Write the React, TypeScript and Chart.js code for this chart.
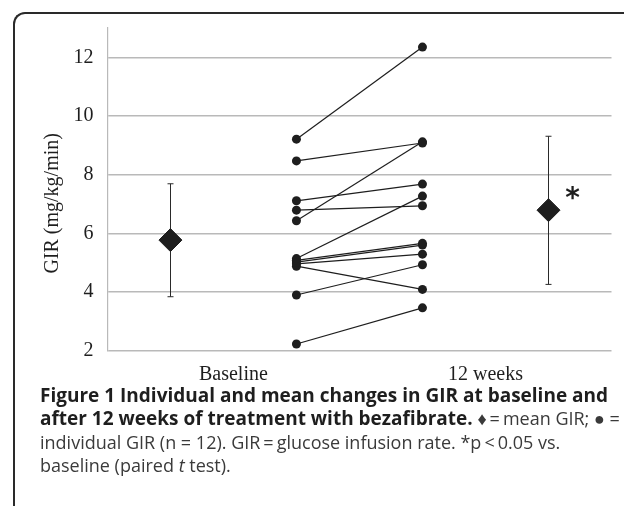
import React, { useEffect, useRef } from 'react';
import { Chart, registerables } from 'chart.js';

Chart.register(...registerables);

// ---- data ----
const groupLabels = ['Baseline', '12 weeks'];
const groupTickPositions = [1, 3];
const individualX = [1.5, 2.5];
const baselineValues = [9.21, 8.47, 7.11, 6.79, 6.43, 5.14, 5.08, 5.02, 4.96, 4.88, 3.9, 2.23];
const week12Values = [12.35, 9.08, 7.68, 6.94, 9.12, 7.27, 5.66, 5.6, 5.29, 4.09, 4.93, 3.46];
const meanX = [0.5, 3.5];
const meanValues = [5.77, 6.79];
const errorUpper = [7.69, 9.31];
const errorLower = [3.84, 4.26];
const yTicks = [2, 4, 6, 8, 10, 12];
const yRange = [2, 13];
const xRange = [0, 4];
const yTitle = 'GIR (mg/kg/min)';
const significanceMark = '*';

const CANVAS_W = 624;
const CANVAS_H = 390;

const overlayPlugin = {
  id: 'overlay',
  beforeDatasetsDraw(chart: any) {
    const { ctx, scales } = chart;
    const x = scales.x;
    const y = scales.y;
    ctx.save();
    ctx.strokeStyle = '#2a2a2a';
    ctx.lineWidth = 1;
    meanX.forEach((mx, i) => {
      const px = Math.round(x.getPixelForValue(mx)) + 0.5;
      const top = y.getPixelForValue(errorUpper[i]);
      const bot = y.getPixelForValue(errorLower[i]);
      ctx.beginPath();
      ctx.moveTo(px, top);
      ctx.lineTo(px, bot);
      ctx.moveTo(px - 3, top);
      ctx.lineTo(px + 3, top);
      ctx.moveTo(px - 3, bot);
      ctx.lineTo(px + 3, bot);
      ctx.stroke();
    });
    ctx.restore();
  },
  afterDraw(chart: any) {
    const { ctx, scales, chartArea } = chart;
    const x = scales.x;
    const y = scales.y;
    // y-axis title
    ctx.save();
    ctx.fillStyle = '#1e1e1e';
    ctx.font = '20px "Liberation Serif"';
    ctx.translate(chartArea.left - 55, (chartArea.top + chartArea.bottom) / 2 + 14);
    ctx.rotate(-Math.PI / 2);
    ctx.textAlign = 'center';
    ctx.textBaseline = 'middle';
    ctx.fillText(yTitle, 0, 0);
    ctx.restore();
    // significance asterisk
    ctx.save();
    ctx.fillStyle = '#1e1e1e';
    ctx.font = 'bold 28px "DejaVu Sans"';
    ctx.textAlign = 'center';
    ctx.textBaseline = 'middle';
    ctx.fillText(
      significanceMark,
      x.getPixelForValue(meanX[1]) + 24,
      y.getPixelForValue(meanValues[1]) - 10
    );
    ctx.restore();
  },
};

function GirChart() {
  const canvasRef = useRef<HTMLCanvasElement | null>(null);

  useEffect(() => {
    const canvas = canvasRef.current;
    if (!canvas) return;

    const individualSets = baselineValues.map((b, i) => ({
      type: 'scatter' as const,
      data: [
        { x: individualX[0], y: b },
        { x: individualX[1], y: week12Values[i] },
      ],
      showLine: true,
      borderColor: '#1e1e1e',
      borderWidth: 1.2,
      pointRadius: 4.5,
      pointHoverRadius: 4.5,
      pointBackgroundColor: '#1e1e1e',
      pointBorderColor: '#1e1e1e',
      pointBorderWidth: 0,
    }));

    const meanSet = {
      type: 'scatter' as const,
      data: meanX.map((mx, i) => ({ x: mx, y: meanValues[i] })),
      showLine: false,
      pointStyle: 'rectRot' as const,
      pointRadius: 11.5,
      pointHoverRadius: 11.5,
      pointBackgroundColor: '#1e1e1e',
      pointBorderColor: '#1e1e1e',
      pointBorderWidth: 1,
    };

    const chart = new Chart(canvas, {
      type: 'scatter',
      data: { datasets: [...individualSets, meanSet] as any },
      options: {
        animation: false,
        responsive: false,
        devicePixelRatio: window.devicePixelRatio || 1,
        layout: { padding: { left: 0, top: 28, right: 12.3, bottom: 0 } },
        plugins: {
          legend: { display: false },
          tooltip: { enabled: false },
          title: { display: false },
        },
        scales: {
          x: {
            type: 'linear',
            min: xRange[0],
            max: xRange[1],
            afterBuildTicks: (scale: any) => {
              scale.ticks = groupTickPositions.map((v) => ({ value: v }));
            },
            afterFit: (scale: any) => {
              scale.height = CANVAS_H - 350.7;
            },
            grid: { display: false, drawTicks: false },
            border: { display: false },
            ticks: {
              padding: 12,
              color: '#1e1e1e',
              font: { family: '"Liberation Serif"', size: 20 },
              callback: (v: any) => {
                const idx = groupTickPositions.indexOf(Number(v));
                return idx >= 0 ? groupLabels[idx] : '';
              },
              maxRotation: 0,
            },
          },
          y: {
            type: 'linear',
            min: yRange[0],
            max: yRange[1],
            afterBuildTicks: (scale: any) => {
              scale.ticks = yTicks.map((v) => ({ value: v }));
            },
            afterFit: (scale: any) => {
              scale.width = 107.4;
            },
            grid: { color: '#b9b9b9', lineWidth: 1.5, drawTicks: false },
            border: { display: true, color: '#b9b9b9', width: 1.2 },
            ticks: {
              padding: 14,
              color: '#1e1e1e',
              font: { family: '"Liberation Serif"', size: 20 },
            },
          },
        },
      },
      plugins: [overlayPlugin],
    });

    return () => chart.destroy();
  }, []);

  return (
    <canvas
      ref={canvasRef}
      width={CANVAS_W}
      height={CANVAS_H}
      style={{ position: 'absolute', left: 0, top: 0, width: CANVAS_W, height: CANVAS_H }}
    />
  );
}

export default function App() {
  const regular: React.CSSProperties = { fontWeight: 400, color: '#3a3a3a', fontSize: 18 };
  return (
    <div style={{ position: 'absolute', left: 0, top: 0, width: 624, height: 506, overflow: 'hidden', background: '#fff' }}>
      <div
        style={{
          position: 'absolute',
          left: 13,
          top: 12,
          width: 700,
          height: 600,
          borderTop: '2px solid #2a2a2a',
          borderLeft: '2px solid #2a2a2a',
          borderTopLeftRadius: 12,
          boxSizing: 'border-box',
        }}
      />
      <GirChart />
      <div
        style={{
          position: 'absolute',
          left: 40,
          top: 384,
          fontFamily: '"Open Sans", sans-serif',
          fontSize: 19,
          lineHeight: '23.3px',
          color: '#1e1e1e',
          whiteSpace: 'nowrap',
        }}
      >
        <span style={{ fontWeight: 700 }}>Figure 1 Individual and mean changes in GIR at baseline and</span>
        <br />
        <span style={{ fontWeight: 700 }}>after 12 weeks of treatment with bezafibrate.</span>
        <span style={regular}> ♦{'\u2009'}={'\u2009'}mean GIR; ● =</span>
        <br />
        <span style={regular}>
          individual GIR (n = 12). GIR{'\u2009'}={'\u2009'}glucose infusion rate. *p{'\u2009'}&lt;{'\u2009'}0.05 vs.
        </span>
        <br />
        <span style={regular}>
          baseline (paired <i>t</i> test).
        </span>
      </div>
    </div>
  );
}
